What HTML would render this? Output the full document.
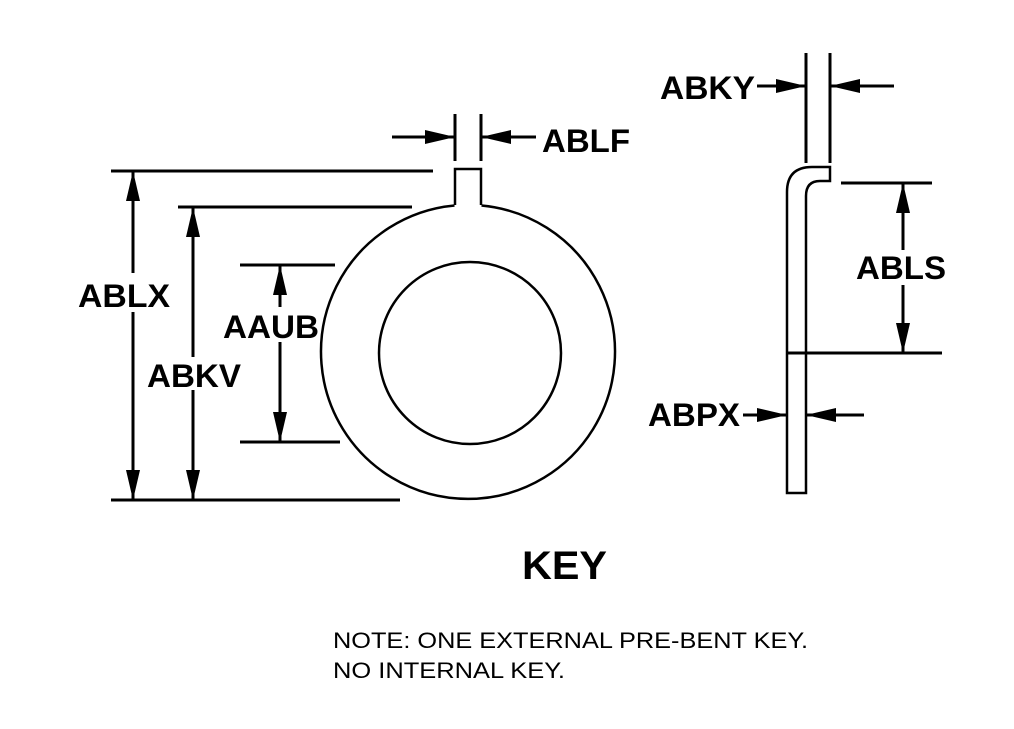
<!DOCTYPE html>
<html><head><style>html,body{margin:0;padding:0;background:#fff;}svg{display:block}</style></head>
<body>
<svg width="1014" height="729" viewBox="0 0 1014 729" xmlns="http://www.w3.org/2000/svg">
<defs>
<marker id="a" markerWidth="30" markerHeight="14" refX="30" refY="7" orient="auto" markerUnits="userSpaceOnUse"><path d="M0,0 L30,7 L0,14 Z" fill="#000"/></marker>
</defs>
<g stroke="#000" stroke-width="3" fill="none">
<path d="M455,205 L455,169 L481,169 L481,205" stroke-width="2.5"/>
<path d="M481.5,205.5 A147,147 0 1 1 454.5,205.5" stroke-width="2.5"/>
<circle cx="470" cy="353" r="91" stroke-width="2.5"/>
<line x1="455" y1="114" x2="455" y2="161"/>
<line x1="481" y1="114" x2="481" y2="161"/>
<line x1="392" y1="137" x2="455" y2="137" marker-end="url(#a)"/>
<line x1="536" y1="137" x2="481" y2="137" marker-end="url(#a)"/>
<line x1="111" y1="171" x2="433" y2="171"/>
<line x1="178" y1="207" x2="412" y2="207"/>
<line x1="240" y1="265" x2="335" y2="265"/>
<line x1="240" y1="442" x2="340" y2="442"/>
<line x1="111" y1="500" x2="400" y2="500"/>
<line x1="133" y1="273" x2="133" y2="171" marker-end="url(#a)"/>
<line x1="133" y1="312" x2="133" y2="500" marker-end="url(#a)"/>
<line x1="193" y1="357" x2="193" y2="207" marker-end="url(#a)"/>
<line x1="193" y1="390" x2="193" y2="500" marker-end="url(#a)"/>
<line x1="280" y1="307" x2="280" y2="265" marker-end="url(#a)"/>
<line x1="280" y1="342" x2="280" y2="442" marker-end="url(#a)"/>
<path d="M787,493 L787,192 Q787,167 812,167 L830,167 L830,181 L820,181 Q806,181 806,196 L806,493 Z" stroke-width="2.5"/>
<line x1="806" y1="53" x2="806" y2="163"/>
<line x1="830" y1="53" x2="830" y2="163"/>
<line x1="757" y1="86" x2="806" y2="86" marker-end="url(#a)"/>
<line x1="894" y1="86" x2="830" y2="86" marker-end="url(#a)"/>
<line x1="841" y1="183" x2="932" y2="183"/>
<line x1="787" y1="353" x2="942" y2="353"/>
<line x1="903" y1="250" x2="903" y2="183" marker-end="url(#a)"/>
<line x1="903" y1="285" x2="903" y2="353" marker-end="url(#a)"/>
<line x1="743" y1="415" x2="787" y2="415" marker-end="url(#a)"/>
<line x1="864" y1="415" x2="806" y2="415" marker-end="url(#a)"/>
</g>
<g font-family="Liberation Sans, sans-serif" font-weight="bold" font-size="32" fill="#000" lengthAdjust="spacingAndGlyphs">
<text x="660" y="99" textLength="95" lengthAdjust="spacingAndGlyphs">ABKY</text>
<text x="542" y="152" textLength="88" lengthAdjust="spacingAndGlyphs">ABLF</text>
<text x="78" y="307" textLength="92" lengthAdjust="spacingAndGlyphs">ABLX</text>
<text x="147" y="387" textLength="94" lengthAdjust="spacingAndGlyphs">ABKV</text>
<text x="223" y="338" textLength="96" lengthAdjust="spacingAndGlyphs">AAUB</text>
<text x="856" y="279" textLength="90" lengthAdjust="spacingAndGlyphs">ABLS</text>
<text x="648" y="426" textLength="92" lengthAdjust="spacingAndGlyphs">ABPX</text>
<text x="522" y="579" font-size="40" textLength="85" lengthAdjust="spacingAndGlyphs">KEY</text>
</g>
<g font-family="Liberation Sans, sans-serif" font-size="22" fill="#000">
<text x="333" y="648" textLength="475" lengthAdjust="spacingAndGlyphs">NOTE: ONE EXTERNAL PRE-BENT KEY.</text>
<text x="333" y="678" textLength="232" lengthAdjust="spacingAndGlyphs">NO INTERNAL KEY.</text>
</g>
</svg>
</body></html>
